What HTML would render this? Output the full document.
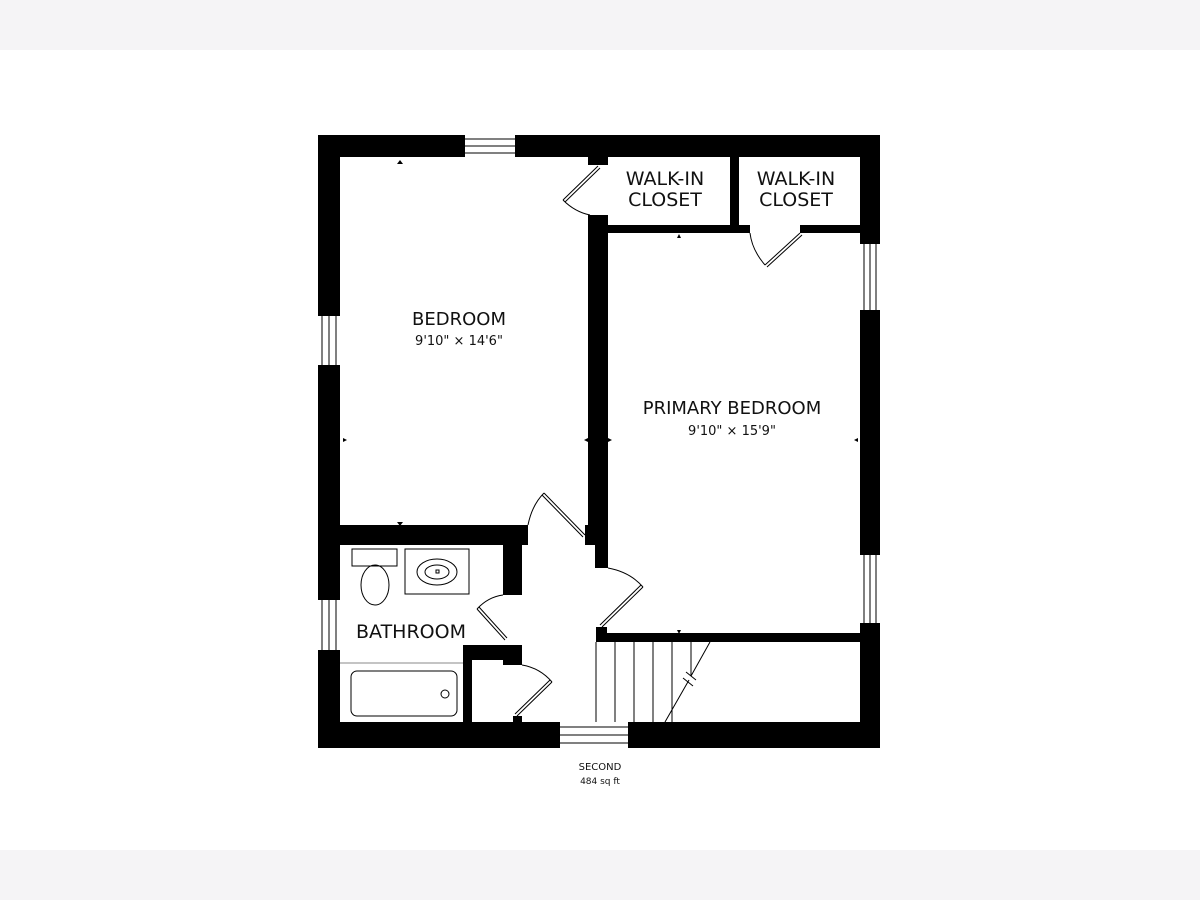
<!DOCTYPE html>
<html><head><meta charset="utf-8"><style>
html,body{margin:0;padding:0;background:#fff;}
svg{display:block}
text{font-family:"DejaVu Sans","Liberation Sans",sans-serif;fill:#111}
</style></head><body>
<svg width="1200" height="900" viewBox="0 0 1200 900" xmlns="http://www.w3.org/2000/svg">
<rect x="0" y="0" width="1200" height="50" fill="#f5f4f6"/>
<rect x="0" y="850" width="1200" height="50" fill="#f5f4f6"/>
<g fill="#000">
<rect x="318" y="135" width="147" height="22"/>
<rect x="515" y="135" width="365" height="22"/>
<rect x="318" y="135" width="22" height="181"/>
<rect x="318" y="365" width="22" height="235"/>
<rect x="318" y="650" width="22" height="98"/>
<rect x="860" y="135" width="20" height="109"/>
<rect x="860" y="310" width="20" height="245"/>
<rect x="860" y="623" width="20" height="125"/>
<rect x="318" y="722" width="242" height="26"/>
<rect x="628" y="722" width="252" height="26"/>
<rect x="340" y="525" width="188" height="20"/>
<rect x="503" y="545" width="19" height="50"/>
<rect x="463" y="645" width="50" height="15"/>
<rect x="503" y="645" width="19" height="20"/>
<rect x="463" y="645" width="9" height="77"/>
<rect x="513" y="716" width="9" height="8"/>
<rect x="588" y="157" width="20" height="8"/>
<rect x="588" y="215" width="20" height="310"/>
<rect x="585" y="525" width="23" height="20"/>
<rect x="595" y="545" width="13" height="23"/>
<rect x="608" y="225" width="142" height="8"/>
<rect x="800" y="225" width="60" height="8"/>
<rect x="730" y="157" width="9" height="70"/>
<rect x="596" y="627" width="11" height="15"/>
<rect x="596" y="633" width="264" height="9"/>
</g>
<g stroke="#000" stroke-width="1" fill="none">
<path d="M465 139H515M465 146H515M465 153H515"/>
<path d="M322 316V365M329 316V365M336 316V365"/>
<path d="M322 600V650M329 600V650M336 600V650"/>
<path d="M864 244V310M870 244V310M876 244V310"/>
<path d="M864 555V623M870 555V623M876 555V623"/>
<path d="M560 727H628M560 735H628M560 743H628"/>
<path d="M598 166L563 200M600 168L565 202"/>
<path d="M563 200Q575 212 590 215"/>
<path d="M800 233L765 265M802 235L767 267"/>
<path d="M765 265Q752 250 750 233"/>
<path d="M544 493L585 535M542 495L583 537"/>
<path d="M528 525Q532 505 544 493"/>
<path d="M643 587L602 627M641 585L600 625"/>
<path d="M608 568Q630 572 643 587"/>
<path d="M477 609L505 640M479 607L507 638"/>
<path d="M477 609Q488 597 503 595"/>
<path d="M552 682L517 716M550 680L515 714"/>
<path d="M522 665Q540 668 552 682"/>
<rect x="352" y="549" width="45" height="17"/>
<ellipse cx="375" cy="585" rx="14" ry="20"/>
<rect x="405" y="549" width="64" height="45"/>
<ellipse cx="437" cy="572" rx="20" ry="13"/>
<ellipse cx="437" cy="572" rx="12" ry="7"/>
<rect x="436" y="570" width="3" height="3"/>
<path d="M340 663H463" stroke="#888"/>
<rect x="351" y="671" width="106" height="45" rx="6"/>
<circle cx="445" cy="694" r="4"/>
<path d="M596 642V722M615 642V722M634 642V722M653 642V722M672 642V722"/>
<path d="M691 642V676M710 642L691 676M689 680L665 722"/>
<path d="M686 672L696 680M683 678L693 686"/>
</g>
<g fill="#000">
<path d="M397 164l3-4l3 4z"/>
<path d="M397 522l3 4l3-4z"/>
<path d="M343 438l4 2l-4 2z"/>
<path d="M588 438l-4 2l4 2z"/>
<path d="M608 438l4 2l-4 2z"/>
<path d="M858 438l-4 2l4 2z"/>
<path d="M677 238l2-4l2 4z"/>
<path d="M677 630l2 4l2-4z"/>
</g>
<text x="459" y="325" font-size="18" text-anchor="middle">BEDROOM</text>
<text x="459" y="345" font-size="13" text-anchor="middle">9'10" × 14'6"</text>
<text x="732" y="414" font-size="18" text-anchor="middle">PRIMARY BEDROOM</text>
<text x="732" y="435" font-size="13" text-anchor="middle">9'10" × 15'9"</text>
<text x="665" y="185" font-size="19" text-anchor="middle">WALK-IN</text>
<text x="665" y="206" font-size="19" text-anchor="middle">CLOSET</text>
<text x="796" y="185" font-size="19" text-anchor="middle">WALK-IN</text>
<text x="796" y="206" font-size="19" text-anchor="middle">CLOSET</text>
<text x="411" y="638" font-size="19" text-anchor="middle">BATHROOM</text>
<text x="600" y="770" font-size="10" text-anchor="middle">SECOND</text>
<text x="600" y="784" font-size="9" text-anchor="middle">484 sq ft</text>
</svg>
</body></html>
